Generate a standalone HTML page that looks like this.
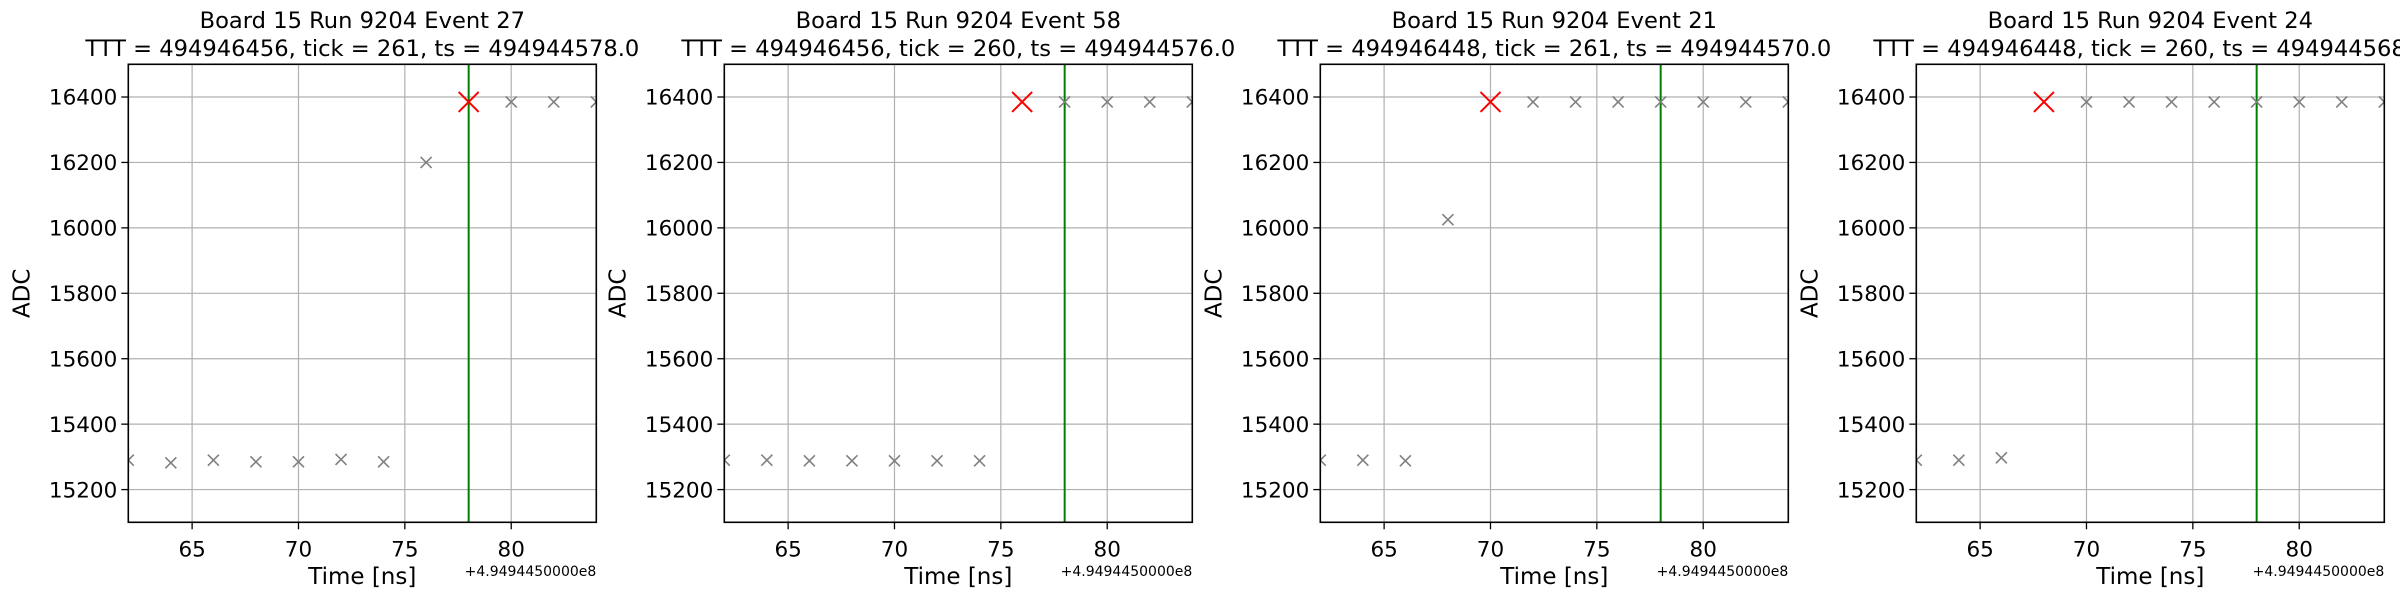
<!DOCTYPE html>
<html><head><meta charset="utf-8">
<style>
html,body{margin:0;padding:0;background:#fff;}
svg{display:block;font-family:"DejaVu Sans","Liberation Sans",sans-serif;}
</style></head>
<body>
<svg id="fig" width="2400" height="600" viewBox="0 0 2400 600" xmlns="http://www.w3.org/2000/svg"></svg>
<script>
const titles1 = ["Board 15 Run 9204 Event 27","Board 15 Run 9204 Event 58","Board 15 Run 9204 Event 21","Board 15 Run 9204 Event 24"];
const titles2 = ["TTT = 494946456, tick = 261, ts = 494944578.0","TTT = 494946456, tick = 260, ts = 494944576.0","TTT = 494946448, tick = 261, ts = 494944570.0","TTT = 494946448, tick = 260, ts = 494944568.0"];
const times = [62,64,66,68,70,72,74,76,78,80,82,84];
const adc1 = [15290,15282,15290,15285,15285,15292,15285,16200,16385,16385,16385,16385];
const adc2 = [15290,15290,15288,15288,15288,15288,15288,16385,16385,16385,16385,16385];
const adc3 = [15290,15290,15288,16025,16385,16385,16385,16385,16385,16385,16385,16385];
const adc4 = [15290,15290,15297,16385,16385,16385,16385,16385,16385,16385,16385,16385];
const series = [adc1,adc2,adc3,adc4];
const peakTimes = [78,76,70,68];
const peakValues = [16385,16385,16385,16385];
const triggerTimes = [78,78,78,78];
const xTicks = [65,70,75,80];
const yTicks = [15200,15400,15600,15800,16000,16200,16400];
const xDomain = [62,84];
const yDomain = [15100,16500];

const NS = "http://www.w3.org/2000/svg";
const svg = document.getElementById("fig");
function mk(tag, attrs, parent){
  const e = document.createElementNS(NS, tag);
  for (const k in attrs) e.setAttribute(k, attrs[k]);
  (parent||svg).appendChild(e);
  return e;
}
const W = 468, T = 64.3, B = 522.3;
const lefts = [128.3, 724.3, 1320.3, 1916.3];

lefts.forEach((L, p) => {
  const g = mk("g", {});
  
  
  const xs = v => L + (v - xDomain[0]) / (xDomain[1]-xDomain[0]) * W;
  const ys = v => B - (v - yDomain[0]) / (yDomain[1]-yDomain[0]) * (B - T);
  const cx = L + W/2;
  xTicks.forEach(t => {
    const l = mk("line", {x1:xs(t), x2:xs(t), y1:T, y2:B, stroke:"#b0b0b0", "stroke-width":1.2}, g);
    
    
  });
  yTicks.forEach(t => {
    const l = mk("line", {x1:L, x2:L+W, y1:ys(t), y2:ys(t), stroke:"#b0b0b0", "stroke-width":1.2}, g);
    
    
  });
  const cp = mk("clipPath", {id:"clip"+p}, g);
  mk("rect", {x:L, y:T, width:W, height:B-T}, cp);
  const data = mk("g", {"clip-path":"url(#clip"+p+")"}, g);
  const tl = mk("line", {x1:xs(triggerTimes[p]), x2:xs(triggerTimes[p]), y1:T, y2:B, stroke:"#008000", "stroke-width":2}, data);
  
  
  series[p].forEach((v, i) => {
    const x = xs(times[i]), y = ys(v), s = 5.5;
    const m = mk("path", {d:`M${x-s},${y-s}L${x+s},${y+s}M${x-s},${y+s}L${x+s},${y-s}`, stroke:"#808080", "stroke-width":1.6, fill:"none"}, data);
    
    
  });
  {
    const x = xs(peakTimes[p]), y = ys(peakValues[p]), s = 10;
    const m = mk("path", {d:`M${x-s},${y-s}L${x+s},${y+s}M${x-s},${y+s}L${x+s},${y-s}`, stroke:"#ff0000", "stroke-width":2, fill:"none"}, data);
    
    
  }
  const fr = mk("rect", {x:L, y:T, width:W, height:B-T, fill:"none", stroke:"#000", "stroke-width":1.6}, g);
  
  
  xTicks.forEach(t => {
    mk("line", {x1:xs(t), x2:xs(t), y1:B, y2:B+7, stroke:"#000", "stroke-width":1.3}, g);
    const tx = mk("text", {x:xs(t), y:B+34, "text-anchor":"middle", "font-size":21.5}, g);
    tx.textContent = t;
    
    
  });
  yTicks.forEach(t => {
    mk("line", {x1:L-7, x2:L, y1:ys(t), y2:ys(t), stroke:"#000", "stroke-width":1.3}, g);
    const tx = mk("text", {x:L-11, y:ys(t)+7.7, "text-anchor":"end", "font-size":21.5}, g);
    tx.textContent = t;
    
    
  });
  const xl = mk("text", {x:cx, y:584, "text-anchor":"middle", "font-size":23}, g);
  xl.textContent = "Time [ns]";
  
  
  const off = mk("text", {x:L+W, y:576, "text-anchor":"end", "font-size":14}, g);
  off.textContent = "+4.9494450000e8";
  
  
  const yl = mk("text", {x:0, y:0, "text-anchor":"middle", "font-size":23, transform:`translate(${L-99},${(T+B)/2}) rotate(-90)`}, g);
  yl.textContent = "ADC";
  
  
  const t1 = mk("text", {x:cx, y:28, "text-anchor":"middle", "font-size":22.6}, g);
  t1.textContent = titles1[p];
  
  
  const t2 = mk("text", {x:cx, y:56, "text-anchor":"middle", "font-size":22.6}, g);
  t2.textContent = titles2[p];
  
  
});
</script>
</body></html>
